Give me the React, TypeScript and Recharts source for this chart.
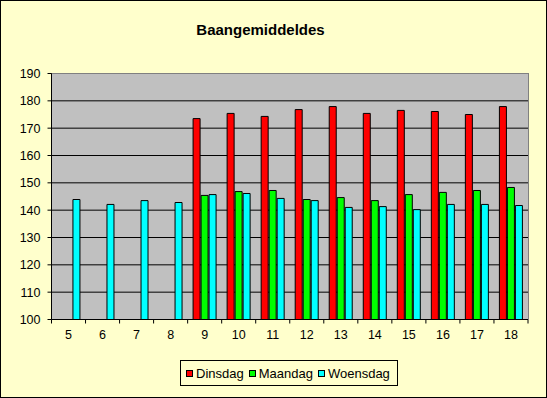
import { Bar, BarChart, CartesianGrid, XAxis, YAxis } from "recharts";

const categories = ["5", "6", "7", "8", "9", "10", "11", "12", "13", "14", "15", "16", "17", "18"];
const dinsdag = [null, null, null, null, 173.5, 175.4, 174.3, 176.8, 177.9, 175.4, 176.5, 176.1, 175.0, 177.9];
const maandag = [null, null, null, null, 145.4, 146.8, 147.2, 143.9, 144.6, 143.5, 145.7, 146.5, 147.2, 148.3];
const woensdag = [143.9, 142.1, 143.5, 142.8, 145.7, 146.1, 144.3, 143.5, 141.0, 141.3, 140.2, 142.1, 142.1, 141.7];
const yTicks = [100, 110, 120, 130, 140, 150, 160, 170, 180, 190];

const SERIES = [
  { key: "Dinsdag", color: "#ff0000" },
  { key: "Maandag", color: "#00ff00" },
  { key: "Woensdag", color: "#00ffff" },
];

const data = categories.map((c, i) => ({
  week: c,
  Dinsdag: dinsdag[i],
  Maandag: maandag[i],
  Woensdag: woensdag[i],
}));

const FONT = '"Liberation Sans", Arial, sans-serif';

// Excel-style category ticks: marks on the boundaries, label in the middle
function XTick(props: any) {
  const { x, y, payload, index, visibleTicksCount, width } = props;
  const half = payload?.offset ? payload.offset : width / visibleTicksCount / 2;
  const last = index === visibleTicksCount - 1;
  return (
    <g>
      <line x1={x - half} x2={x - half} y1={y} y2={y + 4} stroke="#000" />
      {last && <line x1={x + half} x2={x + half} y1={y} y2={y + 4} stroke="#000" />}
      <text x={x} y={y + 19} textAnchor="middle" fontSize={12.5} fontFamily={FONT} fill="#000">
        {payload.value}
      </text>
    </g>
  );
}

export default function App() {
  return (
    <div style={{ position: "absolute", left: 0, top: 0, width: 547, height: 398, background: "#ffffcc", fontFamily: FONT }}>
      <BarChart
        width={547}
        height={398}
        data={data}
        margin={{ top: 73.5, right: 19, left: 0, bottom: 48.5 }}
        barCategoryGap="16%"
        barGap={1}
      >
        <CartesianGrid vertical={false} stroke="#000" fill="#c0c0c0" fillOpacity={1} />
        <XAxis
          dataKey="week"
          interval={0}
          height={30}
          tickSize={0}
          tickMargin={0}
          tickLine={false}
          axisLine={{ stroke: "#000" }}
          tick={<XTick />}
        />
        <YAxis
          width={51.5}
          domain={[100, 190]}
          ticks={yTicks}
          allowDataOverflow
          tickSize={4}
          tickMargin={7}
          axisLine={{ stroke: "#000" }}
          tickLine={{ stroke: "#000" }}
          tick={{ fontSize: 12.5, fill: "#000", fontFamily: FONT }}
        />
        {SERIES.map((s) => (
          <Bar key={s.key} dataKey={s.key} fill={s.color} stroke="#000" strokeWidth={1} isAnimationActive={false} />
        ))}
      </BarChart>

      {/* plot area border, top and right */}
      <div style={{ position: "absolute", left: 52, top: 73, width: 476, height: 246, borderTop: "1px solid #808080", borderRight: "1px solid #808080", pointerEvents: "none" }} />

      <div style={{ position: "absolute", left: 0, top: 22, width: 521, textAlign: "center", fontWeight: "bold", fontSize: 15, lineHeight: "15px" }}>
        Baangemiddeldes
      </div>

      <div style={{ position: "absolute", left: 180, top: 360, width: 218, height: 26, boxSizing: "border-box", border: "1px solid #000", display: "flex", alignItems: "center", paddingLeft: 5, fontSize: 13 }}>
        {SERIES.map((s) => (
          <div key={s.key} style={{ display: "flex", alignItems: "center", marginRight: 5 }}>
            <span style={{ display: "inline-block", width: 7, height: 7, boxSizing: "border-box", border: "1px solid #000", background: s.color, marginRight: 3 }} />
            <span>{s.key}</span>
          </div>
        ))}
      </div>

      <div style={{ position: "absolute", left: 0, top: 0, width: 547, height: 398, boxSizing: "border-box", border: "1px solid #000", pointerEvents: "none" }} />
    </div>
  );
}
